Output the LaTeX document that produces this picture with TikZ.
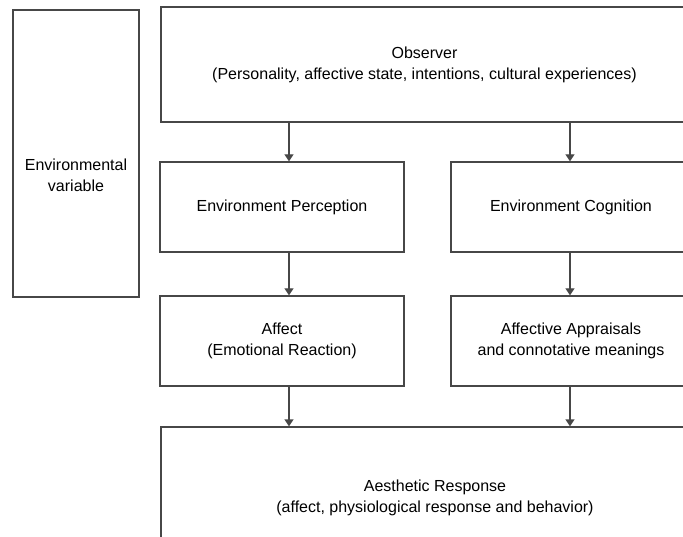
\documentclass[tikz,border=0pt]{standalone}
\usepackage{fontspec}
\setmainfont{Liberation Sans}
\usetikzlibrary{arrows.meta}

\begin{document}
\begin{tikzpicture}[x=1pt,y=-1pt]
\tikzset{box/.style={draw=black!72, line width=1.3pt, fill=white, inner sep=0pt, align=center,
    font=\fontsize{16}{21}\selectfont},
  lbl/.style={inner sep=0pt, align=center, font=\fontsize{16}{21}\selectfont},
  flow/.style={draw=black!72, line width=1.3pt, -{Triangle[length=7pt,width=9pt]}}}
\useasboundingbox (0,0) rectangle (683,537);
\fill [white] (0,0) rectangle (683,537);
\clip (0,0) rectangle (683,537);
% left box
\node [box, minimum width=126pt, minimum height=287pt] (envvar) at (76,153.5) {};
\node [lbl] (envtxt) at (76,175) {Environmental\\variable};
% right column
\node [box, minimum width=527pt, minimum height=115pt] (observer) at (424.5,64.5)
  {Observer\\(Personality, affective state, intentions, cultural experiences)};
\node [box, minimum width=244pt, minimum height=90pt] (percept) at (282,207) {Environment Perception};
\node [box, minimum width=240pt, minimum height=90pt] (cognit) at (571,207) {Environment Cognition};
\node [box, minimum width=244pt, minimum height=90pt] (affect) at (282,341) {Affect\\(Emotional Reaction)};
\node [box, minimum width=240pt, minimum height=90pt] (apprais) at (571,341)
  {Affective Appraisals\\and connotative meanings};
\node [box, minimum width=548pt, minimum height=142pt] (aesth) at (435,498)
  {Aesthetic Response\\(affect, physiological response and behavior)};
\coordinate (lcol) at (289,0);
\coordinate (rcol) at (570,0);
% arrows
\draw [flow] (observer.south -| lcol) -- (percept.north -| lcol);
\draw [flow] (observer.south -| rcol) -- (cognit.north -| rcol);
\draw [flow] (percept.south -| lcol) -- (affect.north -| lcol);
\draw [flow] (cognit.south -| rcol) -- (apprais.north -| rcol);
\draw [flow] (affect.south -| lcol) -- (aesth.north -| lcol);
\draw [flow] (apprais.south -| rcol) -- (aesth.north -| rcol);
\end{tikzpicture}
\end{document}
